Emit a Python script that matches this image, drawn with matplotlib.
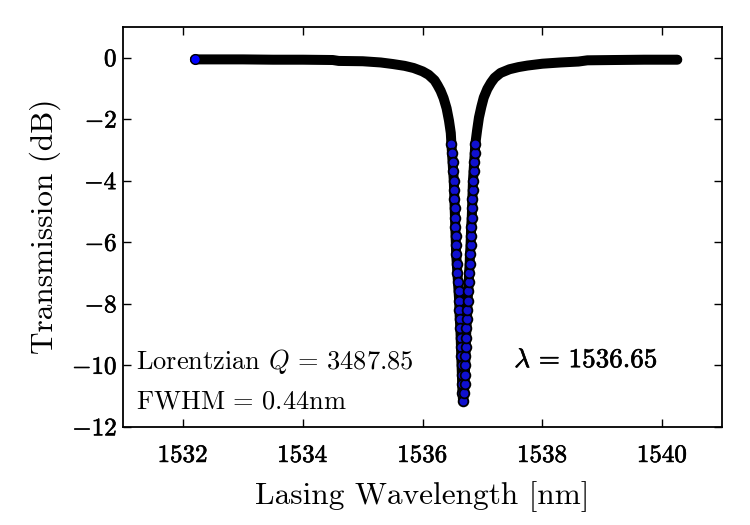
import matplotlib
matplotlib.use('Agg')
import matplotlib.pyplot as plt
import matplotlib.patheffects as pe
import numpy as np
from matplotlib.ticker import FuncFormatter

plt.rcParams['font.family'] = 'cmr10'
plt.rcParams['mathtext.fontset'] = 'cm'
plt.rcParams['axes.formatter.use_mathtext'] = True

# values (wavelength nm, transmission dB)
wl_left = [1532.2, 1532.6, 1533.0, 1533.5, 1534.0, 1534.5, 1534.6, 1535.0,
           1535.3, 1535.5, 1535.7, 1535.85, 1536.0, 1536.1, 1536.2, 1536.25,
           1536.3, 1536.35, 1536.4, 1536.44, 1536.47]
db_left = [-0.06, -0.06, -0.06, -0.07, -0.07, -0.08, -0.11, -0.12,
           -0.16, -0.21, -0.27, -0.34, -0.45, -0.56, -0.74, -0.9,
           -1.08, -1.32, -1.65, -2.05, -2.45]

wl_dip = [1536.48, 1536.49, 1536.50, 1536.51, 1536.52, 1536.525, 1536.53,
          1536.535, 1536.54, 1536.545, 1536.55, 1536.555, 1536.56, 1536.57,
          1536.58, 1536.59, 1536.60, 1536.61, 1536.615, 1536.62, 1536.63,
          1536.635, 1536.64, 1536.645, 1536.65, 1536.655, 1536.66, 1536.665,
          1536.675,
          1536.69, 1536.70, 1536.705, 1536.71, 1536.715, 1536.72, 1536.725,
          1536.73, 1536.74, 1536.745, 1536.75, 1536.76, 1536.77, 1536.775,
          1536.785, 1536.79, 1536.80, 1536.805, 1536.81, 1536.82, 1536.825,
          1536.83, 1536.835, 1536.84, 1536.85, 1536.86, 1536.87, 1536.88]
db_dip = [-2.8, -3.1, -3.4, -3.7, -4.0, -4.3, -4.6,
          -4.9, -5.2, -5.5, -5.8, -6.1, -6.4, -6.7,
          -7.0, -7.3, -7.6, -7.9, -8.2, -8.5, -8.8,
          -9.1, -9.4, -9.7, -10.0, -10.3, -10.6, -10.9,
          -11.15,
          -10.9, -10.6, -10.3, -10.0, -9.7, -9.4, -9.1,
          -8.8, -8.5, -8.2, -7.9, -7.6, -7.3, -7.0,
          -6.7, -6.4, -6.1, -5.8, -5.5, -5.2, -4.9,
          -4.6, -4.3, -4.0, -3.7, -3.4, -3.1, -2.8]

wl_right = [1536.91, 1536.94, 1536.98, 1537.02, 1537.08, 1537.14, 1537.2,
            1537.3, 1537.45, 1537.6, 1537.75, 1538.0, 1538.3, 1538.6,
            1538.75, 1539.2, 1539.7, 1540.25]
db_right = [-2.35, -1.95, -1.6, -1.3, -1.02, -0.82, -0.66,
            -0.5, -0.38, -0.31, -0.26, -0.2, -0.16, -0.13,
            -0.09, -0.08, -0.07, -0.07]

q_factor = 3487.85
fwhm = 0.44
center = 1536.65

wl = np.array(wl_left + wl_dip + wl_right)
db = np.array(db_left + db_dip + db_right)

fig = plt.figure(figsize=(7.5, 5.25), dpi=100)
ax = fig.add_axes([0.164, 0.187, 0.799, 0.762])

# dense overlapping markers look like a thick black band
ax.plot(wl, db, color='black', lw=7.2, solid_capstyle='round',
        solid_joinstyle='round', zorder=2)
ax.plot(wl[0], db[0], 'o', color='blue', mec='black', mew=1, ms=7, zorder=3)
ax.plot(wl_dip, db_dip, 'o', color='#1010d0', mec='black', mew=1.3, ms=7, zorder=3)

ax.set_xlim(1531, 1541)
ax.set_ylim(-12, 1)
ax.set_xticks([1532, 1534, 1536, 1538, 1540])
ax.set_yticks([0, -2, -4, -6, -8, -10, -12])
ax.xaxis.set_major_formatter(FuncFormatter(lambda v, p: r'$\mathbf{%d}$' % v))
ax.yaxis.set_major_formatter(FuncFormatter(lambda v, p: r'$\mathbf{%d}$' % v))
ax.tick_params(direction='in', length=6, width=1, top=True, right=True,
               labelsize=18)
ax.tick_params(axis='x', pad=13)
ax.tick_params(axis='y', pad=4)
for s in ax.spines.values():
    s.set_linewidth(1.3)

bold = [pe.withStroke(linewidth=0.45, foreground='black')]
for lab in ax.get_xticklabels() + ax.get_yticklabels():
    lab.set_path_effects(bold)

ax.set_xlabel('Lasing Wavelength [nm]', fontsize=22.5, labelpad=10)
ax.set_ylabel('Transmission (dB)', fontsize=22.5, labelpad=8)

ax.text(0.022, 0.163, r'Lorentzian $Q\,=\,%.2f$' % q_factor, transform=ax.transAxes,
        fontsize=19, va='center', ha='left')
ax.text(0.022, 0.063, r'$\mathrm{FWHM}\,=\,%.2f\mathrm{nm}$' % fwhm,
        transform=ax.transAxes, fontsize=19, va='center', ha='left')
ax.text(0.653, 0.166, r'$\mathbf{\lambda\,=\,%.2f}$' % center,
        transform=ax.transAxes, fontsize=19.5, va='center', ha='left',
        path_effects=bold)

fig.savefig('out.png', dpi=100)
